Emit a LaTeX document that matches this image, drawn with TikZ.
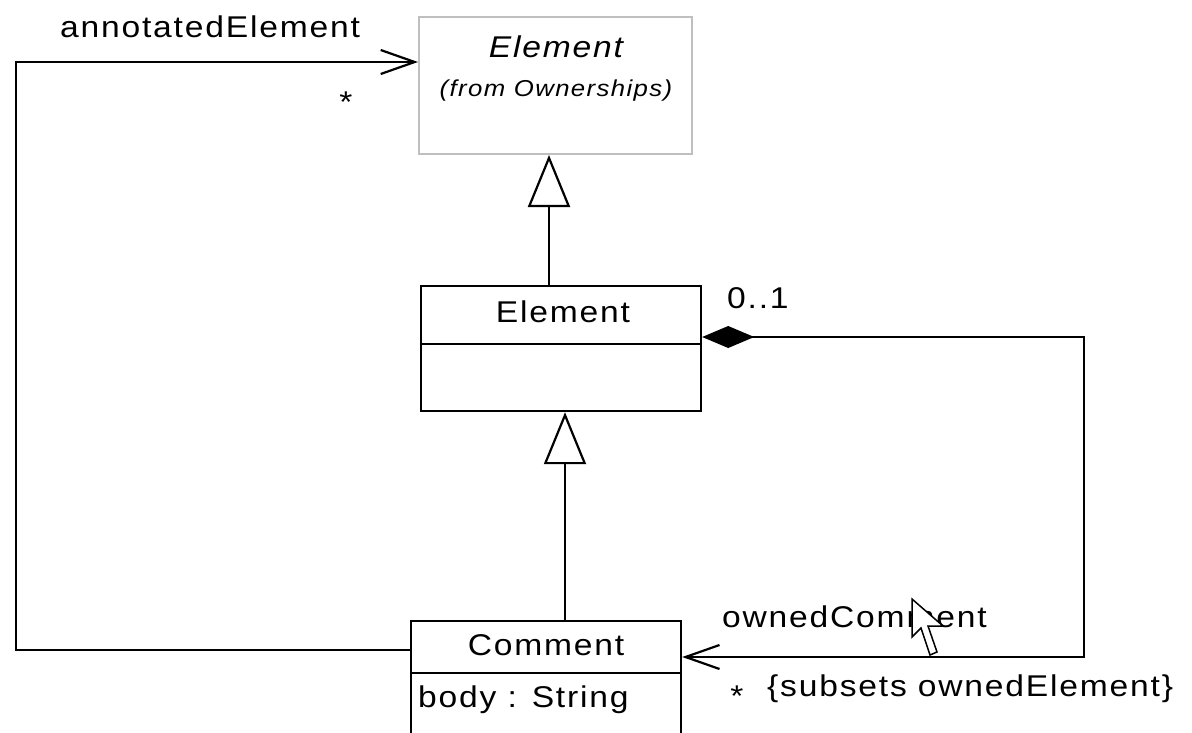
\documentclass[tikz,border=0pt]{standalone}
\usepackage{fontspec}
\setmainfont{Liberation Sans}[FakeStretch=1.12, LetterSpace=6]
\usetikzlibrary{arrows.meta}
\begin{document}
\begin{tikzpicture}[x=1pt,y=-1pt,
  conn/.style={line width=2.2pt, black},
  box/.style={draw, line width=2.2pt, minimum width=#1, inner sep=0pt, anchor=north west},
  lbl/.style={font=\fontsize{30}{36}\selectfont, inner sep=0pt},
  openarrow/.style={-{Straight Barb[length=34,width=24,line width=2.2pt]}},
  gen/.style={-{Triangle[open,length=52,width=42,line width=2.2pt,fill=white]}},
  compopen/.style={{Diamond[length=52,width=22,fill=black]}-{Straight Barb[length=34,width=24,line width=2.2pt]}}
]
\useasboundingbox (0,0) rectangle (1192,733);
\clip (0,0) rectangle (1192,733);
\fill[white] (0,0) rectangle (1192,733);

% Abstract Element (from Ownerships)
\node[draw=black!25, line width=2pt, minimum width=273, minimum height=137, inner sep=0pt, anchor=north west] (elemA) at (418,16) {};
\node[lbl, font=\fontsize{30}{36}\selectfont\itshape] (elemAname) at (556,47) {Element};
\node[lbl, font=\fontsize{23}{26}\selectfont\itshape] (elemAfrom) at (556,91) {(from Ownerships)};

% Element class
\node[box=280, minimum height=58] (elemT) at (420,285) {};
\node[box=280, minimum height=67] (elemB) at (420,343) {};
\node[lbl] (elemname) at (563,312) {Element};

% Comment class
\node[box=270, minimum height=52] (comT) at (410,620) {};
\node[box=270, minimum height=80] (comB) at (410,672) {};
\node[lbl] (comname) at (546,645) {Comment};
\node[lbl, anchor=west] (body) at (418,700) {body : String};

% generalizations
\draw[conn, gen] (elemT.north -| 549,0) -- (elemA.south -| 549,0);
\draw[conn, gen] (comT.north -| 565,0) -- (elemB.south -| 565,0);

% annotatedElement
\coordinate (a1) at (16,650);
\coordinate (a2) at (16,62);
\draw[conn, openarrow] (comT.west |- a1) -- (a1) -- (a2) -- (elemA.west |- a2);
\node[lbl, anchor=west] (annlbl) at (60,27) {annotatedElement};
\node[lbl] (annmult) at (346,102) {*};

% ownedComment composition
\coordinate (o1) at (1084,337);
\coordinate (o2) at (1084,657);
\draw[conn, compopen] (elemT.east |- o1) -- (o1) -- (o2) -- (comT.east |- o2);
\node[lbl, anchor=west] (zeroone) at (727,298) {0..1};
\node[lbl, anchor=west] (ownlbl) at (722,617) {ownedComment};
\node[lbl] (ownmult) at (737,696) {*};
\node[lbl, anchor=west] (subsets) at (767,689) {\{subsets ownedElement\}};

% mouse cursor
\draw[fill=white, line width=1.5pt, line join=miter] (912,599) -- ++(0,38) -- ++(9,-9) -- ++(9,27) -- ++(7,-3) -- ++(-9,-26) -- ++(15,0) -- cycle;
\end{tikzpicture}
\end{document}
